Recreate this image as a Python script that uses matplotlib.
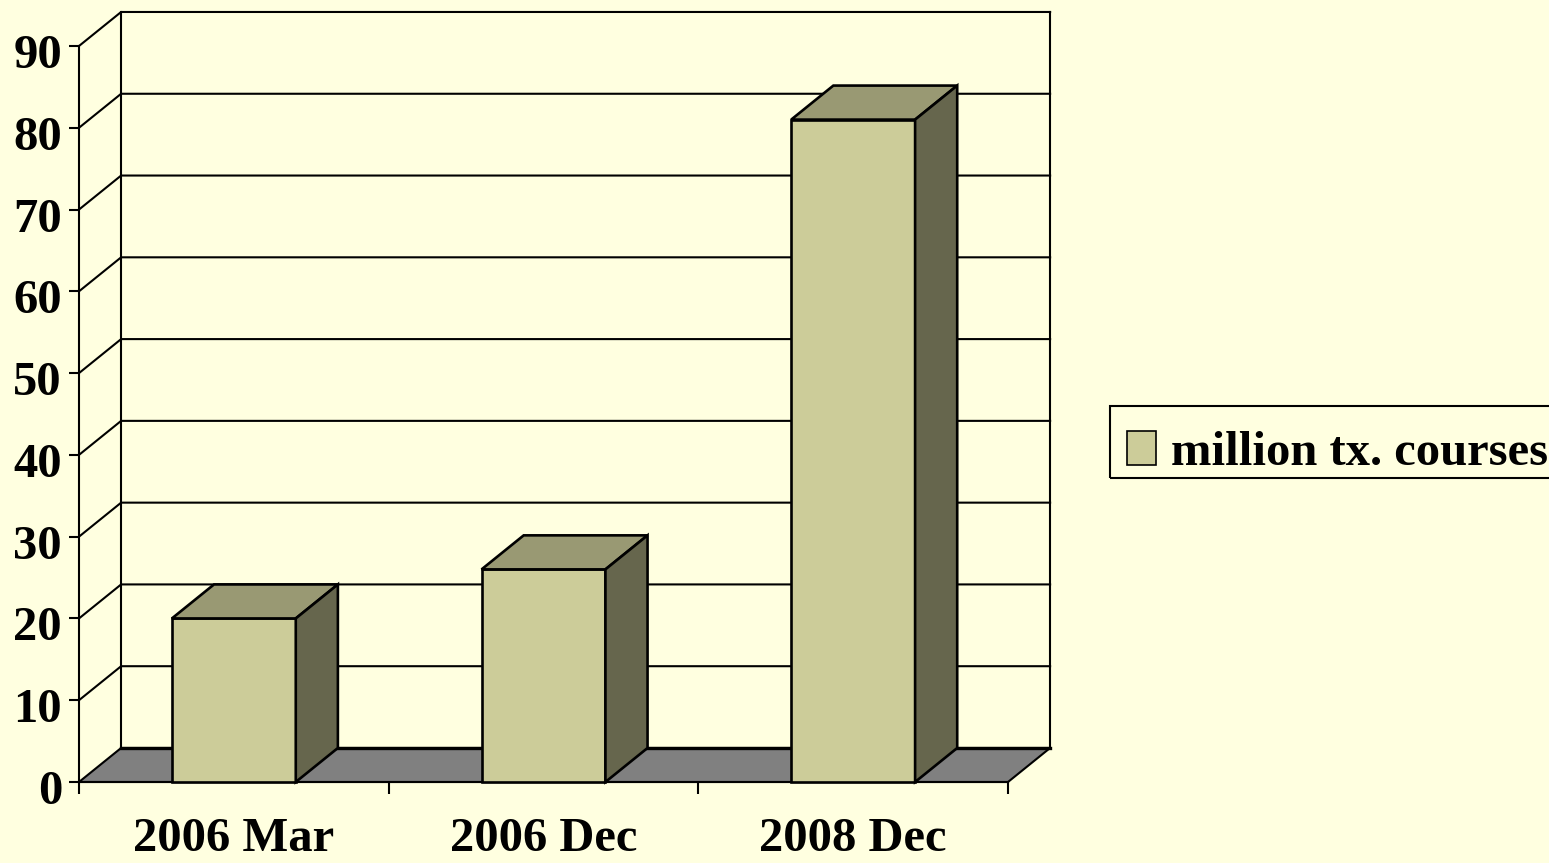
import numpy as np
import matplotlib.pyplot as plt
import matplotlib.transforms as mtransforms
from matplotlib.patches import Polygon, Rectangle

# data
categories = ["2006 Mar", "2006 Dec", "2008 Dec"]
values = [20, 26, 81]
series_name = "million tx. courses"
yticks = list(range(0, 91, 10))

# colours
BG = "#FFFFE0"
FRONT = "#CCCC99"
TOP = "#999973"
SIDE = "#66664D"
FLOOR = "#808080"

DX, DY = 0.136, 4.16   # depth offset of the back wall (data units)
BW = 0.4               # bar width in category units
LW = 1.5

plt.rcParams['font.family'] = ['Liberation Serif', 'DejaVu Serif']
plt.rcParams['font.weight'] = 'bold'

fig = plt.figure(figsize=(15.49, 8.63), dpi=100)
fig.patch.set_facecolor(BG)
ax = fig.add_axes([79 / 1549, 81 / 863, 929 / 1549, 736 / 863])
ax.set_facecolor('none')
n = len(categories)
ax.set_xlim(0, n)
ax.set_ylim(0, yticks[-1])

# walls: gridlines on side and back wall
for y in yticks[1:]:
    ax.plot([0, DX, n + DX], [y, y + DY, y + DY], color='k', lw=LW, clip_on=False, zorder=1)
ax.plot([DX, DX], [DY, yticks[-1] + DY], color='k', lw=LW, clip_on=False, zorder=1)
ax.plot([n + DX, n + DX], [DY, yticks[-1] + DY], color='k', lw=LW, clip_on=False, zorder=1)

# floor
ax.add_patch(Polygon([(0, 0), (n, 0), (n + DX, DY), (DX, DY)], closed=True,
                     facecolor=FLOOR, edgecolor='k', lw=LW, clip_on=False, zorder=1.5))
ax.plot([DX, n + DX], [DY, DY], color='k', lw=2.4, clip_on=False, zorder=1.6)

# bars
BLW = 1.9
x = np.arange(n) + 0.5
bars = ax.bar(x, values, BW, color=FRONT, edgecolor='k', lw=BLW, clip_on=False,
              zorder=3, label=series_name)
for xi, v in zip(x, values):
    l, r = xi - BW / 2, xi + BW / 2
    ax.add_patch(Polygon([(l, v), (r, v), (r + DX, v + DY), (l + DX, v + DY)], closed=True,
                         facecolor=TOP, edgecolor='k', lw=BLW, clip_on=False, zorder=3))
    ax.add_patch(Polygon([(r, 0), (r + DX, DY), (r + DX, v + DY), (r, v)], closed=True,
                         facecolor=SIDE, edgecolor='k', lw=BLW, clip_on=False, zorder=3))

# axes
for s in ['top', 'right']:
    ax.spines[s].set_visible(False)
for s in ['left', 'bottom']:
    ax.spines[s].set_linewidth(LW)
ax.set_yticks(yticks)
ax.set_yticklabels([str(t) for t in yticks])
ax.tick_params(axis='y', length=7.2, width=LW, pad=5, labelsize=35)
offset = mtransforms.ScaledTranslation(0, -5 / 100, fig.dpi_scale_trans)
for lbl in ax.get_yticklabels():
    lbl.set_transform(lbl.get_transform() + offset)
ax.set_xticks(np.arange(n + 1))
ax.set_xticklabels([])
ax.tick_params(axis='x', which='major', length=8.6, width=LW)
ax.set_xticks(x, minor=True)
ax.set_xticklabels(categories, minor=True)
ax.tick_params(axis='x', which='minor', length=0, pad=25, labelsize=35)

# legend (frame drawn separately so the entry can sit low in the box like the original)
leg = fig.legend(handles=[bars], labels=[series_name], loc='center left',
                 bbox_to_anchor=(1127 / 1549, 1 - 452.7 / 863), fontsize=35,
                 frameon=False, handlelength=0.6, handleheight=0.72, handletextpad=0.3,
                 borderpad=0, borderaxespad=0)
for h in leg.legend_handles:
    h.set_linewidth(1.2)
fig.add_artist(Rectangle((1110 / 1549, 1 - 478 / 863), 460 / 1549, 72 / 863,
                         transform=fig.transFigure, fill=False, edgecolor='k', lw=LW))

fig.savefig("out.png", dpi=100, facecolor=BG)
